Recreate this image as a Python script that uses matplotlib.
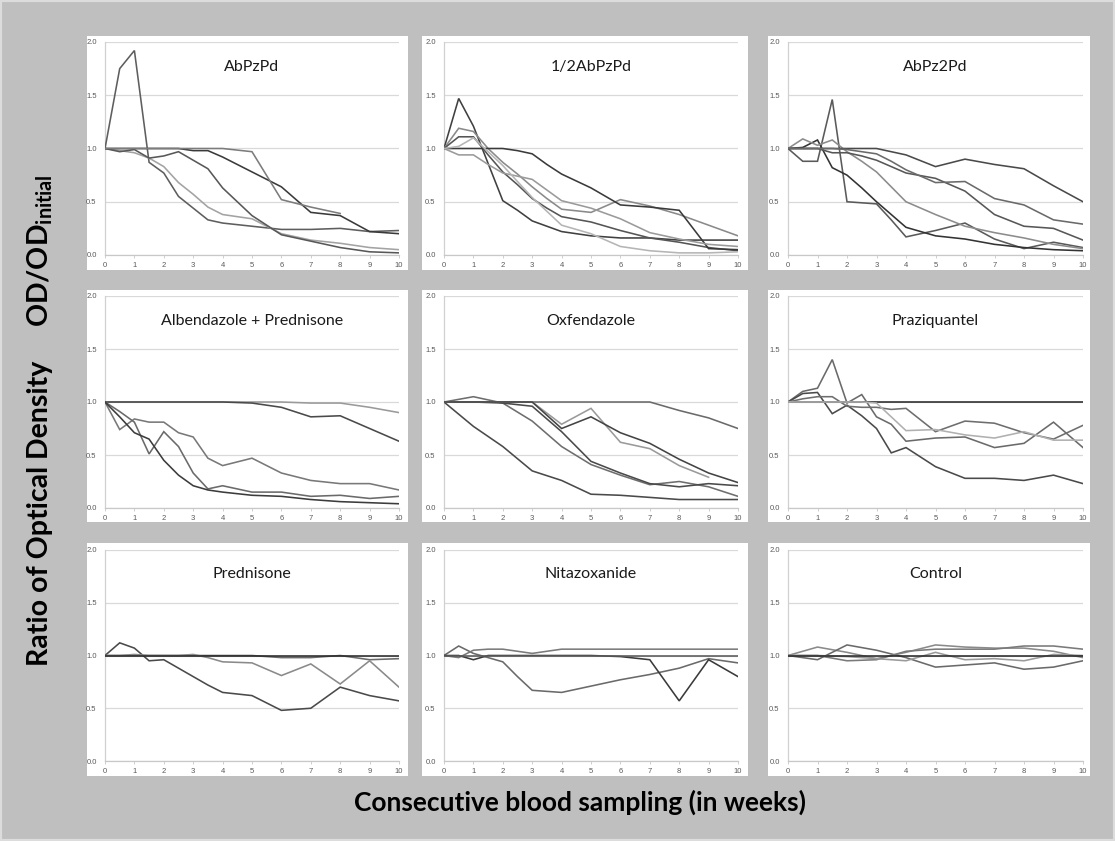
import matplotlib
matplotlib.use('Agg')
import matplotlib.pyplot as plt
from matplotlib.patches import Rectangle
import numpy as np

# ---------------- data ----------------
weeks_half = [0, 0.5, 1, 1.5, 2, 2.5, 3, 3.5, 4, 5, 6, 7, 8, 9, 10]
weeks_int = [0, 1, 2, 3, 4, 5, 6, 7, 8, 9, 10]
x_ticks = [0, 1, 2, 3, 4, 5, 6, 7, 8, 9, 10]
y_ticks = [0.0, 0.5, 1.0, 1.5, 2.0]

titles = ["AbPzPd", "1/2AbPzPd", "AbPz2Pd",
          "Albendazole + Prednisone", "Oxfendazole", "Praziquantel",
          "Prednisone", "Nitazoxanide", "Control"]

# Panel 1: AbPzPd (half-week grid)
abpzpd_a = [1.0, 1.75, 1.92, 0.87, 0.77, 0.55, 0.44, 0.33, 0.30, 0.27, 0.24, 0.24, 0.25, 0.22, 0.23]
abpzpd_b = [1.0, 0.98, 0.96, 0.91, 0.83, 0.68, 0.57, 0.45, 0.38, 0.34, 0.20, 0.14, 0.11, 0.07, 0.05]
abpzpd_c = [1.0, 0.97, 0.99, 0.91, 0.93, 0.97, 0.89, 0.81, 0.63, 0.37, 0.19, 0.13, 0.07, 0.03, 0.02]
abpzpd_d = [1.0, 1.0, 1.0, 1.0, 1.0, 1.0, 0.98, 0.98, 0.92, 0.78, 0.64, 0.40, 0.37, 0.22, 0.20]
abpzpd_e = [1.0, 1.0, 1.0, 1.0, 1.0, 1.0, 1.0, 1.0, 1.0, 0.97, 0.52, 0.45, 0.39, None, None]

# Panel 2: 1/2AbPzPd
half_a = [1.0, 1.47, 1.21, 0.86, 0.51, 0.42, 0.32, 0.27, 0.22, 0.18, 0.16, 0.16, 0.14, 0.14, 0.14]
half_b = [1.0, 1.19, 1.16, 1.00, 0.87, 0.76, 0.64, 0.53, 0.43, 0.40, 0.52, 0.46, 0.38, 0.28, 0.18]
half_c = [1.0, 1.11, 1.11, 0.94, 0.78, 0.66, 0.53, 0.44, 0.36, 0.31, 0.23, 0.16, 0.12, 0.07, 0.04]
half_d = [1.0, 1.0, 1.0, 1.0, 1.0, 0.98, 0.95, 0.85, 0.76, 0.63, 0.47, 0.45, 0.42, 0.06, 0.05]
half_e = [1.0, 0.94, 0.94, 0.85, 0.77, 0.74, 0.71, 0.61, 0.51, 0.44, 0.34, 0.21, 0.15, 0.10, 0.08]
half_f = [1.0, 1.02, 1.10, 0.97, 0.84, 0.69, 0.54, 0.41, 0.28, 0.20, 0.08, 0.04, 0.02, 0.02, 0.03]

# Panel 3: AbPz2Pd
pz2_a = [1.0, 0.88, 0.88, 1.46, 0.50, 0.49, 0.48, 0.33, 0.17, 0.23, 0.30, 0.15, 0.06, 0.12, 0.07]
pz2_b = [1.0, 1.01, 1.08, 0.82, 0.75, 0.63, 0.50, 0.38, 0.26, 0.18, 0.15, 0.10, 0.07, 0.05, 0.04]
pz2_c = [1.0, 1.09, 1.03, 1.08, 0.97, 0.88, 0.78, 0.64, 0.50, 0.38, 0.27, 0.21, 0.16, 0.10, 0.06]
pz2_d = [1.0, 1.0, 1.0, 1.0, 1.0, 1.0, 1.0, 0.97, 0.94, 0.83, 0.90, 0.85, 0.81, 0.65, 0.50]
pz2_e = [1.0, 1.0, 1.0, 0.96, 0.96, 0.93, 0.89, 0.83, 0.77, 0.72, 0.60, 0.38, 0.27, 0.25, 0.14]
pz2_f = [1.0, 1.0, 1.0, 1.0, 0.99, 0.97, 0.95, 0.88, 0.80, 0.68, 0.69, 0.53, 0.47, 0.33, 0.29]

# Panel 4: Albendazole + Prednisone
abpd_a = [1.0, 1.0, 1.0, 1.0, 1.0, 1.0, 1.0, 1.0, 1.0, 1.0, 1.0, 0.99, 0.99, 0.95, 0.90]
abpd_b = [1.0, 1.0, 1.0, 1.0, 1.0, 1.0, 1.0, 1.0, 1.0, 0.99, 0.95, 0.86, 0.87, 0.75, 0.63]
abpd_c = [1.0, 0.74, 0.84, 0.81, 0.81, 0.71, 0.67, 0.47, 0.40, 0.47, 0.33, 0.26, 0.23, 0.23, 0.17]
abpd_d = [1.0, 0.91, 0.81, 0.51, 0.72, 0.58, 0.33, 0.18, 0.21, 0.15, 0.15, 0.11, 0.12, 0.09, 0.11]
abpd_e = [1.0, 0.86, 0.71, 0.65, 0.45, 0.31, 0.21, 0.17, 0.15, 0.12, 0.11, 0.08, 0.06, 0.05, 0.04]

# Panel 5: Oxfendazole (weekly grid)
oxf_a = [1.0, 1.0, 1.0, 1.0, 1.0, 1.0, 1.0, 1.0, 0.92, 0.85, 0.75]
oxf_b = [1.0, 1.05, 0.99, 0.82, 0.58, 0.41, 0.31, 0.22, 0.25, 0.20, 0.11]
oxf_c = [1.0, 0.77, 0.58, 0.35, 0.26, 0.13, 0.12, 0.10, 0.08, 0.08, 0.08]
oxf_d = [1.0, 1.0, 0.99, 0.96, 0.72, 0.44, 0.33, 0.23, 0.20, 0.23, 0.21]
oxf_e = [1.0, 1.0, 1.0, 1.0, 0.79, 0.94, 0.62, 0.56, 0.40, 0.29, None]
oxf_f = [1.0, 1.0, 1.0, 1.0, 0.75, 0.86, 0.71, 0.61, 0.46, 0.33, 0.24]

# Panel 6: Praziquantel
pzq_a = [1.0] * 15
pzq_b = [1.0, 1.10, 1.13, 1.40, 0.99, 1.07, 0.86, 0.79, 0.63, 0.66, 0.67, 0.57, 0.61, 0.81, 0.57]
pzq_c = [1.0, 1.08, 1.09, 0.89, 0.97, 0.87, 0.75, 0.52, 0.57, 0.39, 0.28, 0.28, 0.26, 0.31, 0.23]
pzq_d = [1.0, 1.03, 1.05, 1.05, 0.96, 0.95, 0.95, 0.93, 0.94, 0.72, 0.82, 0.80, 0.71, 0.65, 0.78]
pzq_e = [1.0, 1.0, 1.0, 1.0, 1.0, 1.0, 0.99, 0.86, 0.73, 0.74, 0.69, 0.66, 0.72, 0.64, 0.64]

# Panel 7: Prednisone
pred_a = [1.0, 1.0, 1.0, 1.0, 1.0, 1.0, 1.0, 1.0, 1.0, 1.0, 0.98, 0.98, 1.0, 0.96, 0.97]
pred_b = [1.0, 1.12, 1.07, 0.95, 0.96, 0.88, 0.80, 0.72, 0.65, 0.62, 0.48, 0.50, 0.70, 0.62, 0.57]
pred_c = [1.0, 1.0, 1.01, 1.0, 1.0, 1.0, 1.01, 0.98, 0.94, 0.93, 0.81, 0.92, 0.73, 0.95, 0.70]
pred_d = [1.0] * 15

# Panel 8: Nitazoxanide
ntz_a = [1.0, 1.09, 1.02, 0.98, 0.94, 0.80, 0.67, 0.66, 0.65, 0.71, 0.77, 0.82, 0.88, 0.97, 0.93]
ntz_b = [1.0, 0.98, 1.05, 1.06, 1.06, 1.04, 1.02, 1.04, 1.06, 1.06, 1.06, 1.06, 1.06, 1.06, 1.06]
ntz_c = [1.0, 1.0, 0.96, 1.0, 1.0, 1.0, 1.0, 1.0, 1.0, 1.0, 0.99, 0.96, 0.57, 0.96, 0.80]
ntz_d = [1.0] * 15

# Panel 9: Control (weekly grid)
ctl_a = [1.0, 1.08, 1.03, 0.97, 1.03, 1.10, 1.08, 1.07, 1.07, 1.04, 0.98]
ctl_b = [1.0, 0.96, 1.10, 1.05, 0.98, 0.89, 0.91, 0.93, 0.87, 0.89, 0.95]
ctl_c = [1.0, 1.0, 0.95, 0.96, 1.04, 1.06, 1.06, 1.06, 1.09, 1.09, 1.06]
ctl_d = [1.0, 1.0, 0.99, 0.97, 0.95, 1.03, 0.96, 0.97, 0.95, 1.01, 1.0]
ctl_e = [1.0] * 11

panels = [
    (weeks_half, [abpzpd_a, abpzpd_b, abpzpd_c, abpzpd_d, abpzpd_e],
     ['#5e5e5e', '#a3a3a3', '#585858', '#3a3a3a', '#7c7c7c']),
    (weeks_half, [half_a, half_b, half_c, half_d, half_e, half_f],
     ['#404040', '#8a8a8a', '#555555', '#3a3a3a', '#9a9a9a', '#b5b5b5']),
    (weeks_half, [pz2_a, pz2_b, pz2_c, pz2_d, pz2_e, pz2_f],
     ['#5a5a5a', '#333333', '#8c8c8c', '#4a4a4a', '#575757', '#6a6a6a']),
    (weeks_half, [abpd_a, abpd_b, abpd_c, abpd_d, abpd_e],
     ['#9a9a9a', '#4a4a4a', '#787878', '#6a6a6a', '#3c3c3c']),
    (weeks_int, [oxf_a, oxf_b, oxf_c, oxf_d, oxf_e, oxf_f],
     ['#6a6a6a', '#6e6e6e', '#4a4a4a', '#4a4a4a', '#9a9a9a', '#444444']),
    (weeks_half, [pzq_a, pzq_b, pzq_c, pzq_d, pzq_e],
     ['#2a2a2a', '#6a6a6a', '#4a4a4a', '#6e6e6e', '#b0b0b0']),
    (weeks_half, [pred_a, pred_b, pred_c, pred_d],
     ['#6a6a6a', '#4a4a4a', '#8a8a8a', '#2a2a2a']),
    (weeks_half, [ntz_a, ntz_b, ntz_c, ntz_d],
     ['#6a6a6a', '#7a7a7a', '#3a3a3a', '#5a5a5a']),
    (weeks_int, [ctl_a, ctl_b, ctl_c, ctl_d, ctl_e],
     ['#8a8a8a', '#6a6a6a', '#7a7a7a', '#9a9a9a', '#2a2a2a']),
]

# ---------------- layout ----------------
W, H = 1115, 841
fig = plt.figure(figsize=(W / 100, H / 100), dpi=100)
fig.patch.set_facecolor('#bfbfbf')
fig.add_artist(Rectangle((0, 0), 1, 1, transform=fig.transFigure, fill=False,
                         edgecolor='#dcdcdc', linewidth=3, zorder=-2))

ax_left = [105, 444, 788]
ax_right = [399, 738, 1083]
ax_top = [42, 296, 550]
ax_bot = [255, 508, 761]
box_x = [(87, 408), (422, 748), (768, 1090)]
box_y = [(36, 270), (290, 522), (543, 776)]

FONT = 'Lato'
TICKFONT = 'Liberation Sans'

for i, (xs, series, colors) in enumerate(panels):
    r, c = divmod(i, 3)
    bx0, bx1 = box_x[c]
    by0, by1 = box_y[r]
    fig.add_artist(Rectangle((bx0 / W, 1 - by1 / H), (bx1 - bx0) / W, (by1 - by0) / H,
                             transform=fig.transFigure, facecolor='white',
                             edgecolor='none', zorder=-1))
    ax = fig.add_axes([ax_left[c] / W, 1 - ax_bot[r] / H,
                       (ax_right[c] - ax_left[c]) / W, (ax_bot[r] - ax_top[r]) / H])
    ax.set_facecolor('white')
    for ys, col in zip(series, colors):
        yv = np.array([np.nan if v is None else v for v in ys], dtype=float)
        ax.plot(xs, yv, color=col, lw=1.15, solid_joinstyle='miter', zorder=3)
    ax.set_xlim(0, 10)
    ax.set_ylim(0, 2.0)
    ax.set_xticks(x_ticks)
    ax.set_xticklabels([str(v) for v in x_ticks])
    ax.set_yticks(y_ticks)
    ax.set_yticklabels([f"{v:.1f}" for v in y_ticks])
    ax.grid(axis='y', color='#d9d9d9', lw=0.9, zorder=0)
    ax.set_axisbelow(True)
    for s in ['top', 'right']:
        ax.spines[s].set_visible(False)
    ax.spines['left'].set_color('#d0d0d0')
    ax.spines['bottom'].set_color('#c8c8c8')
    ax.spines['left'].set_linewidth(0.9)
    ax.spines['bottom'].set_linewidth(0.9)
    ax.tick_params(axis='y', length=0, pad=6, labelsize=5.5, labelcolor='#595959')
    ax.tick_params(axis='x', length=2, width=0.6, color='#c8c8c8', pad=3,
                   labelsize=5.5, labelcolor='#595959')
    for lab in ax.get_xticklabels() + ax.get_yticklabels():
        lab.set_family(TICKFONT)
    ax.text(0.5, 0.865, titles[i], transform=ax.transAxes, ha='center', va='baseline',
            fontsize=11.5, family=FONT, color='#1a1a1a')

plt.rcParams['mathtext.fontset'] = 'custom'
plt.rcParams['mathtext.bf'] = 'Lato:bold'
plt.rcParams['mathtext.rm'] = 'Lato'

fig.text(40 / W, 1 - 513 / H, 'Ratio of Optical Density', rotation=90,
         ha='center', va='center', fontsize=20.5, fontweight='bold', family=FONT,
         color='#000000')
fig.text(40 / W, 1 - 251 / H, r'OD/OD$_{\mathbf{initial}}$', rotation=90,
         ha='center', va='center', fontsize=20.5, fontweight='bold', family=FONT,
         color='#000000')
fig.text(580 / W, 1 - 802 / H, 'Consecutive blood sampling (in weeks)',
         ha='center', va='center', fontsize=19, fontweight='bold', family=FONT,
         color='#000000')

fig.savefig('out.png', dpi=100, facecolor=fig.get_facecolor())
